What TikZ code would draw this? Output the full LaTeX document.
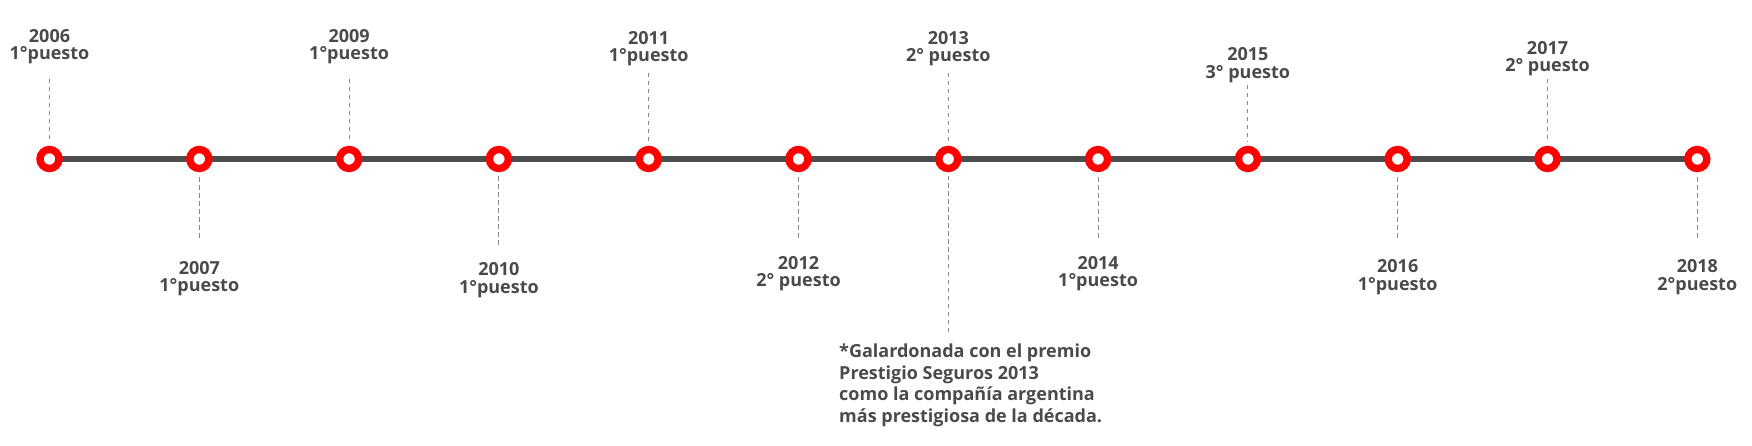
\documentclass[tikz,border=0pt]{standalone}
\usepackage{fontspec}
\setmainfont{Open Sans}
\definecolor{txt}{HTML}{4A4A4A}
\definecolor{axis}{HTML}{4D4D4D}
\definecolor{ring}{HTML}{FF0000}
\definecolor{dash}{HTML}{8A8A8A}
\begin{document}
\begin{tikzpicture}[x=1pt,y=-1pt,
  ringnode/.style={circle,draw=ring,fill=white,line width=7.4pt,minimum size=19pt,inner sep=0pt},
  lbl/.style={align=center,text=txt,inner sep=0pt,anchor=base,font=\bfseries\fontsize{18}{17.5}\selectfont},
  note/.style={align=left,text=txt,inner sep=0pt,anchor=base west,font=\bfseries\fontsize{18}{21.5}\selectfont},
  dashline/.style={draw=dash,line width=1.1pt,dash pattern=on 4.5pt off 3.5pt,shorten >=4pt}]
\useasboundingbox (0,0) rectangle (1752,446);
% ring positions
\foreach \yr/\x in {2006/49.5,2007/199.3,2009/349.1,2010/498.9,2011/648.7,2012/798.5,2013/948.3,2014/1098.1,2015/1247.9,2016/1397.7,2017/1547.5,2018/1697.3}
  \coordinate (p\yr) at (\x,159);
\draw[axis,line width=5.5pt] (p2006) -- (p2018);
\foreach \yr in {2006,2007,2009,2010,2011,2012,2013,2014,2015,2016,2017,2018}
  \node[ringnode] (n\yr) at (p\yr) {};
% labels above (anchored at baseline of last line)
\node[lbl] (l2006) at (49.5,60) {2006\\1°puesto};
\node[lbl] (l2009) at (349.1,60) {2009\\1°puesto};
\node[lbl] (l2011) at (648.7,61.7) {2011\\1°puesto};
\node[lbl] (l2013) at (948.3,61.7) {2013\\2° puesto};
\node[lbl] (l2015) at (1247.9,78.5) {2015\\3° puesto};
\node[lbl] (l2017) at (1547.5,71.7) {2017\\2° puesto};
% labels below
\node[lbl] (l2007) at (199.3,291.7) {2007\\1°puesto};
\node[lbl] (l2010) at (498.9,293) {2010\\1°puesto};
\node[lbl] (l2012) at (798.5,287) {2012\\2° puesto};
\node[lbl] (l2014) at (1098.1,287) {2014\\1°puesto};
\node[lbl] (l2016) at (1397.7,290) {2016\\1°puesto};
\node[lbl] (l2018) at (1697.3,290) {2018\\2°puesto};
\node[note] (fn) at (839,422) {*Galardonada con el premio\\Prestigio Seguros 2013\\como la compañía argentina\\más prestigiosa de la década.};
% dashed connector ends
\foreach \yr/\x/\y in {2006/49.5/79,2009/349.1/79,2011/648.7/73,2013/948.3/73,2015/1247.9/85,2017/1547.5/79,
  2007/199.3/238,2010/498.9/245,2012/798.5/238,2013b/948.3/332,2014/1098.1/238,2016/1397.7/238,2018/1697.3/238}
  \coordinate (d\yr) at (\x,\y);
\foreach \yr in {2006,2009,2011,2013,2015,2017,2007,2010,2012,2014,2016,2018}
  \draw[dashline] (d\yr) -- (n\yr);
\draw[dashline] (d2013b) -- (n2013);
\end{tikzpicture}
\end{document}
